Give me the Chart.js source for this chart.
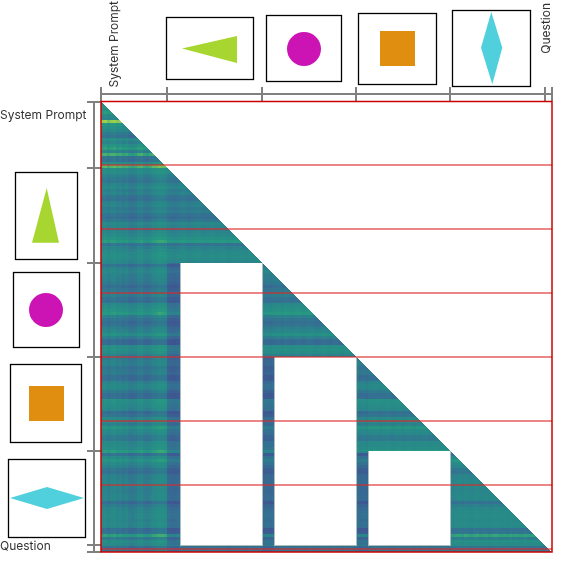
<!DOCTYPE html>
<html><head><meta charset="utf-8">
<style>html,body{margin:0;padding:0;background:#fff}canvas{display:block}</style>
<script src="https://cdn.jsdelivr.net/npm/chart.js@4"></script>
</head><body><canvas id="c" width="567" height="567"></canvas>
<script>
// token boundaries of the prompt sections (horizontal / vertical axis units)
const xSections = [0,66,161,255,349,444,451];
const ySections = [0,66,161,255,349,443,450];
const axisLabels = ["System Prompt","Question"];
const redLineRows = [63,127,191,255,319,383,447];
// attention level per row (each entry covers 3 tokens)
const rowValues = [
.45,.60,.55,.68,.50,.45,.95,.62,.55,.50,.38,.30,.55,.45,.60,.70,.45,.78,.33,.30,.55,.82,
.52,.55,.44,.37,.34,.45,.50,.42,.45,.34,.30,.42,.45,.37,.42,.32,.28,.36,.50,.46,.42,.48,.52,.60,.68,.33,.44,.50,.54,.56,.52,.48,
.30,.45,.50,.44,.42,.40,.36,.26,.33,.38,.40,.30,.28,.50,.54,.60,.66,.42,.33,.26,.32,.42,.46,
.58,.42,.24,.23,.55,.58,.53,.42,.38,.42,.43,.33,.36,.38,.26,.28,.45,.50,.48,.36,.26,.27,.58,.55,.52,.48,.26,.32,.50,.48,.42,.62,.52,.48,.38,.36,.50,.52,.55,
.68,.30,.50,.62,.50,.43,.32,.30,.42,.43,.45,.46,.44,.42,.44,.46,.45,.26,.38,.45,.48,.50,.50,.46,.50,.48,.26,.30,.70,.38,.54,.50,.28,.33
];
// column offset per column (each entry covers 3 tokens)
const colValues = [
.02,.04,-.02,.03,.05,-.01,.02,-.03,.00,-.06,-.08,-.05,.01,.03,-.04,-.07,-.02,.04,.06,.10,.09,.07,
.00,-.02,-.03,-.01,.02,.03,.00,-.02,.01,.02,.04,.01,-.01,.00,.02,.03,-.01,.01,.03,.02,-.02,.00,.02,.01,.03,.00,-.01,.02,.01,.00,.03,.01,
-.02,-.01,-.03,.00,.01,.02,.00,.03,.02,-.01,.01,.03,.02,.00,.01,.04,.02,-.01,.00,.02,.03,.01,.00,.02,.03,.01,-.01,.02,.01,.03,.00,.02,
-.02,.00,-.03,.01,.02,.03,.01,.00,.02,.04,.01,-.01,.02,.03,.00,.01,.03,.02,.00,.02,.01,.03,.02,-.01,.01,.03,.02,.00,.02,.01,.03,.02,
.04,.05,.03,.06,.04,.02,.05,.06,.03,.04,.05,.02,.04,.06,.05,.03,.04,.02,.05,.03,.04,.02,.03,.05,.03,.02,.04,.03,.02,.01,.02,.00,.01
];
// blank (never attended) blocks and dark strips, in token units
const blankCols = [[80,161],[174,255],[268,349]];
const blankRows = [[161,443],[255,443],[349,443]];
const darkStrips = [[66,79,161,-.2],[161,173,255,-.2],[255,267,349,-.2]];
const levelStops = [[0,[62,84,146]],[.25,[54,108,146]],[.5,[40,136,138]],[.7,[38,154,128]],[.85,[84,180,106]],[1,[158,208,76]]];
const LEVELS = 40;

function colorFor(t){
  for(let i=1;i<levelStops.length;i++){
    const [a,ca]=levelStops[i-1],[b,cb]=levelStops[i];
    if(t<=b){const f=(t-a)/(b-a);return `rgb(${ca.map((v,k)=>Math.round(v+(cb[k]-v)*f)).join(',')})`;}
  }
  return 'rgb(158,208,76)';
}
const buckets = Array.from({length:LEVELS},()=>[]);
const edge = [];
for(let r=0;r<450;r++){
  for(let c=0;c<=Math.min(r,450);c++){
    let blank=false,isEdge=false;
    for(let b=0;b<3;b++){
      const [c0,c1]=blankCols[b],[r0,r1]=blankRows[b];
      if(c>=c0&&c<c1&&r>=r0&&r<r1){blank=true;}
      else if(r>=r0&&r<=r1&&(c===c0-1||c===c1)||(r===r1&&c>=c0&&c<c1)){isEdge=true;}
    }
    if(blank)continue;
    if(isEdge){edge.push({x:c+.5,y:r+.5});continue;}
    let v=rowValues[Math.floor(r/3)]+colValues[Math.floor(c/3)];
    for(const [c0,c1,r0,s] of darkStrips){ if(c>=c0&&c<c1&&r>=r0) v+= r>=443? s*.4 : s; }
    if(r>=66&&r<161&&c>=66) v-=.02;
    const lvl=Math.max(0,Math.min(LEVELS-1,Math.round(v*(LEVELS-1))));
    buckets[lvl].push({x:c+.5,y:r+.5});
  }
}
const cellOpts={type:'scatter',pointStyle:'rect',pointRadius:Math.SQRT1_2,pointHoverRadius:0,borderWidth:0,pointBorderWidth:0,order:2};
const datasets=[];
redLineRows.forEach(y=>datasets.push({type:'scatter',showLine:true,data:[{x:0,y},{x:451,y}],borderColor:'rgba(222,40,40,.56)',borderWidth:2,pointRadius:0,order:0,clip:false}));
datasets.push(Object.assign({},cellOpts,{data:edge,backgroundColor:'#aebcc0',pointBackgroundColor:'#aebcc0',order:1}));
buckets.forEach((pts,i)=>{const col=colorFor(i/(LEVELS-1));datasets.push(Object.assign({},cellOpts,{data:pts,backgroundColor:col,pointBackgroundColor:col}));});

const thumbs = {
  draw(ctx,area){
    const box=(x0,y0,x1,y1)=>{ctx.lineWidth=1.3;ctx.strokeStyle='#000';ctx.strokeRect(x0,y0,x1-x0,y1-y0);};
    const poly=(col,pts)=>{ctx.fillStyle=col;ctx.beginPath();pts.forEach((p,i)=>i?ctx.lineTo(p[0],p[1]):ctx.moveTo(p[0],p[1]));ctx.closePath();ctx.fill();};
    const circ=(cx,cy,r)=>{ctx.fillStyle='#cc14b4';ctx.beginPath();ctx.arc(cx,cy,r,0,Math.PI*2);ctx.fill();};
    const lime='#a6d62f',org='#e08e0f',cy='#50cfdc';
    box(166.5,17.5,253.5,79.5);poly(lime,[[182,48.5],[237,36],[237,63]]);
    box(266.5,15.5,341.5,81.5);circ(304,49,17);
    box(358.5,13.5,436.5,84.5);poly(org,[[380,31],[415,31],[415,66],[380,66]]);
    box(452.5,10.5,530.5,86.5);poly(cy,[[491.3,12],[502.3,47.7],[492.3,84.3],[481,47.7]]);
    box(15.5,172.5,77.5,259.5);poly(lime,[[46.7,188],[59,242.7],[32,242.7]]);
    box(13.5,272.5,79.5,347.5);circ(46,310,17);
    box(10.5,364.5,81.5,442.5);poly(org,[[29,386],[64,386],[64,421],[29,421]]);
    box(8.5,459.5,85.5,537.5);poly(cy,[[10,498],[47,487],[84,498],[47,509]]);
  }
};
const overlay={
  id:'overlay',
  afterDraw(chart){
    const {ctx,scales:{x,y}}=chart;
    ctx.save();
    // section brackets
    ctx.strokeStyle='#808080';ctx.lineWidth=2;
    const xp=xSections.map(v=>x.getPixelForValue(v));
    const yp=ySections.map(v=>y.getPixelForValue(v));
    ctx.beginPath();
    ctx.moveTo(xp[0],94);ctx.lineTo(xp[xp.length-1],94);
    xp.forEach(p=>{ctx.moveTo(p,87);ctx.lineTo(p,101);});
    ctx.moveTo(94,yp[0]);ctx.lineTo(94,yp[yp.length-1]);
    yp.forEach(p=>{ctx.moveTo(87,p);ctx.lineTo(101,p);});
    ctx.stroke();
    // frame
    ctx.strokeStyle='#cc0000';ctx.lineWidth=1.5;
    ctx.strokeRect(xp[0],yp[0]-.5,xp[xp.length-1]-xp[0],yp[yp.length-1]-yp[0]+.5);
    // thumbnails
    thumbs.draw(ctx,chart.chartArea);
    // labels
    ctx.fillStyle='#333';ctx.font='12px Inter';ctx.textBaseline='middle';ctx.textAlign='left';
    ctx.fillText(axisLabels[0],0,115);
    ctx.fillText(axisLabels[1],0,546);
    ctx.textAlign='right';
    ctx.save();ctx.translate(114,0);ctx.rotate(-Math.PI/2);ctx.fillText(axisLabels[0],-1,0);ctx.restore();
    ctx.save();ctx.translate(546,0);ctx.rotate(-Math.PI/2);ctx.fillText(axisLabels[1],-3,0);ctx.restore();
    ctx.restore();
  }
};
new Chart(document.getElementById('c'),{
  type:'scatter',
  data:{datasets},
  options:{
    responsive:false,animation:false,parsing:false,normalized:true,
    events:[],
    layout:{padding:{left:101,top:102,right:15,bottom:15}},
    plugins:{legend:{display:false},tooltip:{enabled:false}},
    scales:{
      x:{type:'linear',display:false,min:0,max:451},
      y:{type:'linear',display:false,min:0,max:450,reverse:true}
    }
  },
  plugins:[overlay]
});
</script></body></html>
